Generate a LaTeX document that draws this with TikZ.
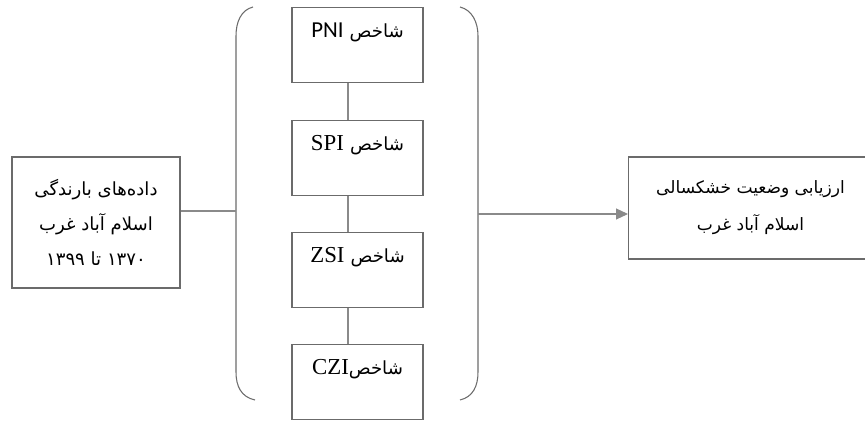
\documentclass[tikz,border=0pt]{standalone}
\usepackage{fontspec}
\usetikzlibrary{arrows.meta}
\TeXXeTstate=1
\newfontfamily\arabicfont[Script=Arabic]{DejaVu Sans}
\newfontfamily\calfont{Carlito}
\newfontfamily\timesfont{Liberation Serif}
\definecolor{edge}{HTML}{6B6B6B}
\definecolor{wire}{HTML}{8A8A8A}

\begin{document}
\begin{tikzpicture}[x=0.02cm, y=-0.02cm,
    idxbox/.style={draw=edge, line width=0.6pt, inner sep=0pt, anchor=north,
        text width=2.62cm, align=center, text height=0.6cm, text depth=0.9cm,
        font=\arabicfont\fontsize{10.3}{14}\selectfont},
    sidebox/.style={draw=edge, line width=0.6pt, inner sep=0pt, align=center,
        font=\arabicfont\fontsize{10.3}{20}\selectfont},
    wire/.style={draw=wire, line width=0.6pt}]
    \useasboundingbox (0,0) rectangle (865,421);

    \node[sidebox, minimum width=3.36cm, minimum height=2.62cm] (data) at (96,222.5)
        {\beginR داده‌های بارندگی\endR\\ \beginR اسلام آباد غرب\endR\\ \beginR ۱۳۷۰ تا ۱۳۹۹\endR};

    \node[idxbox] (pni) at (357.5,7) {\beginR شاخص \beginL{\calfont\fontsize{13}{14}\selectfont PNI}\endL\endR};
    \node[idxbox] (spi) at (357.5,120) {\beginR شاخص \beginL{\timesfont\fontsize{13}{14}\selectfont SPI}\endL\endR};
    \node[idxbox] (zsi) at (357.5,232) {\beginR شاخص \beginL{\timesfont\fontsize{13}{14}\selectfont ZSI}\endL\endR};
    \node[idxbox] (czi) at (357.5,344) {\beginR شاخص\beginL{\timesfont\fontsize{13}{14}\selectfont CZI}\endL\endR};

    \node[sidebox, minimum width=4.88cm, minimum height=2.04cm, anchor=west,
        font=\arabicfont\fontsize{9.7}{21}\selectfont] (result) at (628,208)
        {\beginR ارزیابی وضعیت خشکسالی\endR\\ \beginR اسلام آباد غرب\endR};

    \draw[draw=edge, line width=0.6pt] (253,7) .. controls (241,10) and (236,22) .. (236,36)
        -- (236,372) .. controls (236,386) and (241,397) .. (255,400);
    \draw[draw=edge, line width=0.6pt] (460,7) .. controls (472,10) and (478,22) .. (478,36)
        -- (478,372) .. controls (478,386) and (473,397) .. (460,400);

    \coordinate (axis) at (348,0);
    \coordinate (bl) at (236,211);
    \coordinate (br) at (478,214);

    \draw[wire] (pni.south -| axis) -- (spi.north -| axis);
    \draw[wire] (spi.south -| axis) -- (zsi.north -| axis);
    \draw[wire] (zsi.south -| axis) -- (czi.north -| axis);

    \draw[wire] (data.east |- bl) -- (bl);
    \draw[wire, -{Triangle[length=0.24cm, width=0.22cm]}, fill=wire] (br) -- (br -| result.west);
\end{tikzpicture}
\end{document}
